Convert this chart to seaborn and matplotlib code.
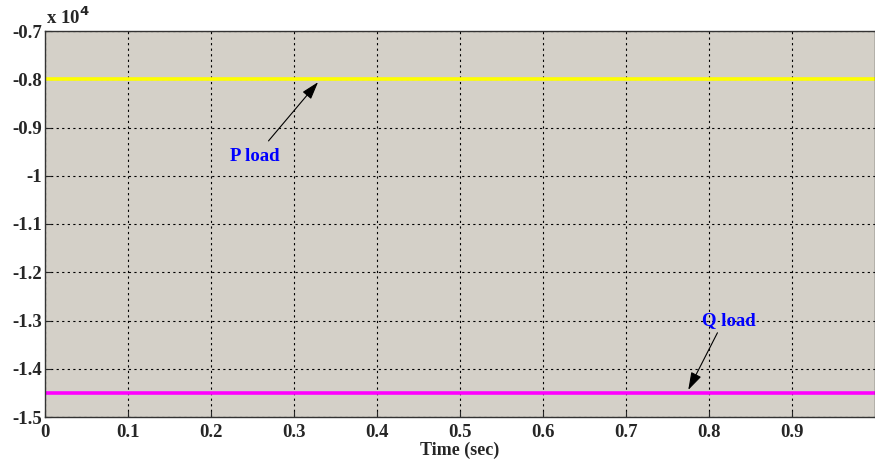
import matplotlib
matplotlib.use("Agg")
import matplotlib.pyplot as plt
import seaborn as sns
import pandas as pd

# time (sec) and load power (x 10^4)
time = [0.0, 1.0]
p_load = [-0.8, -0.8]
q_load = [-1.45, -1.45]
x_ticks = [0, 0.1, 0.2, 0.3, 0.4, 0.5, 0.6, 0.7, 0.8, 0.9]
y_ticks = [-1.5, -1.4, -1.3, -1.2, -1.1, -1.0, -0.9, -0.8, -0.7]
y_labels = ["-1.5", "-1.4", "-1.3", "-1.2", "-1.1", "-1", "-0.9", "-0.8", "-0.7"]

sns.set_style("ticks")
plt.rcParams['font.family'] = ['Liberation Serif', 'DejaVu Serif']
plt.rcParams['font.weight'] = 'bold'

df = pd.DataFrame({"t": time + time,
                   "val": p_load + q_load,
                   "sig": ["P"] * len(time) + ["Q"] * len(time)})

fig = plt.figure(figsize=(8.75, 4.59), dpi=100, facecolor="w")
ax = fig.add_axes([45 / 875, 1 - 417 / 459, 1 - 45 / 875, (417 - 31) / 459])
ax.set_facecolor("#d4d0c8")

sns.lineplot(data=df, x="t", y="val", hue="sig", palette={"P": "#ffff00", "Q": "#ff00ff"},
             linewidth=2.6, legend=False, ax=ax, zorder=3)

ax.set_xlim(0, 1.0)
ax.set_ylim(-1.5, -0.7)
ax.set_xticks(x_ticks)
ax.set_xticklabels([f"{v:g}" for v in x_ticks])
ax.set_yticks(y_ticks)
ax.set_yticklabels(y_labels)
ax.tick_params(direction="in", length=4, labelsize=13.5)
ax.tick_params(axis="x", pad=5)
ax.tick_params(axis="y", pad=2)
ax.set_axisbelow(True)
ax.grid(True, color="black", linestyle=(0, (2, 3)), linewidth=0.8)
for s in ax.spines.values():
    s.set_color("#333333")
    s.set_linewidth(1.0)
    s.set_zorder(4)

ax.set_xlabel("Time (sec)", fontsize=13, fontweight="bold", va="center")
ax.xaxis.set_label_coords((460 - 45) / 830, -33 / 386)
ax.set_ylabel("")
fig.text(46 / 875, 1 - 17 / 459, r"x 10$^{4}$", fontsize=13.5, fontweight="bold", va="center")

ax.annotate("P load", xy=(0.329, -0.806), xytext=(0.253, -0.961), color="blue",
            fontsize=13.5, fontweight="bold", ha="center", va="center",
            arrowprops=dict(arrowstyle="-|>,head_length=0.8,head_width=0.25",
                            color="black", lw=0.8, shrinkA=4, shrinkB=0))
ax.annotate("Q load", xy=(0.775, -1.444), xytext=(0.824, -1.301), color="blue",
            fontsize=13.5, fontweight="bold", ha="center", va="center",
            arrowprops=dict(arrowstyle="-|>,head_length=0.8,head_width=0.25",
                            color="black", lw=0.8, shrinkA=0, shrinkB=0,
                            relpos=(0.35, 0.2)))

fig.savefig("out.png", dpi=100)
